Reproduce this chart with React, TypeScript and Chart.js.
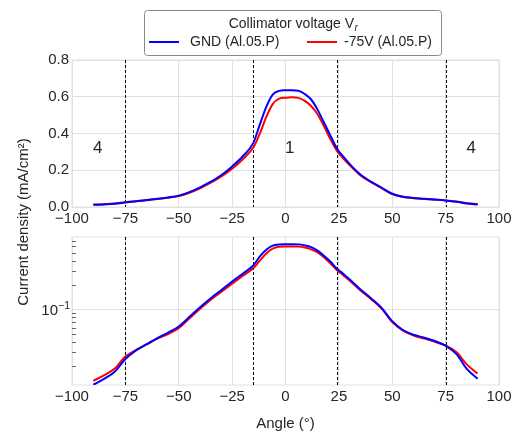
import React, { useEffect, useRef } from 'react';
import { Chart, registerables } from 'chart.js';

Chart.register(...registerables);

const angles = [-90, -85, -80, -75, -70, -65, -60, -55, -50, -45, -40, -35, -30, -25, -20, -15, -12, -9, -6, -3, 0, 3, 6, 9, 12, 15, 18, 21, 24, 27, 30, 35, 40, 45, 50, 55, 60, 65, 70, 75, 80, 85, 90];
const gnd = [0.0119, 0.0140, 0.0172, 0.0246, 0.0315, 0.0375, 0.0446, 0.052, 0.0618, 0.0813, 0.107, 0.138, 0.174, 0.221, 0.276, 0.350, 0.45, 0.545, 0.612, 0.632, 0.635, 0.636, 0.633, 0.615, 0.585, 0.53, 0.46, 0.39, 0.32, 0.275, 0.235, 0.178, 0.138, 0.105, 0.072, 0.056, 0.049, 0.045, 0.041, 0.0359, 0.0285, 0.0185, 0.0141];
const neg75 = [0.0133, 0.0155, 0.0188, 0.0265, 0.0318, 0.0372, 0.0440, 0.050, 0.0591, 0.0776, 0.102, 0.132, 0.166, 0.208, 0.260, 0.325, 0.40, 0.49, 0.56, 0.59, 0.595, 0.597, 0.594, 0.578, 0.55, 0.505, 0.44, 0.37, 0.307, 0.265, 0.228, 0.173, 0.135, 0.103, 0.070, 0.055, 0.048, 0.044, 0.040, 0.0359, 0.030, 0.021, 0.0163];
const seriesNames = ['GND (Al.05.P)', '-75V (Al.05.P)'];
const seriesColors = ['#0000ff', '#ff0000'];
const boundaries = [-75, -15, 24, 75];
const regionLabels = ['4', '1', '4'];
const regionLabelX = [-88, 2, 87];
const regionLabelY = 0.32;
const logMinorTicks = [0.02, 0.03, 0.04, 0.05, 0.06, 0.07, 0.08, 0.09, 0.2, 0.3, 0.4, 0.5, 0.6, 0.7];
const logMajorTicks = [0.1];
const logMajorBase = '10';
const logMajorExp = ['\u22121'];
const legendTitle = 'Collimator voltage V';
const legendTitleSub = 'r';
const xTitle = 'Angle (°)';
const yTitle = 'Current density (mA/cm²)';

const FONT = "'Liberation Sans', Arial, sans-serif";
const TXT = '#262626';
const GRID = '#e0e0e0';

const fmtX = (v: number) => (v < 0 ? '\u2212' + Math.abs(v) : String(v));

const datasets = () => [
  { label: seriesNames[0], data: angles.map((a, i) => ({ x: a, y: gnd[i] })), borderColor: seriesColors[0], borderWidth: 2, pointRadius: 0, cubicInterpolationMode: 'monotone' as const, fill: false },
  { label: seriesNames[1], data: angles.map((a, i) => ({ x: a, y: neg75[i] })), borderColor: seriesColors[1], borderWidth: 2, pointRadius: 0, cubicInterpolationMode: 'monotone' as const, fill: false },
];

const framePlugin = {
  id: 'frameDash',
  beforeDatasetsDraw(chart: any) {
    const { ctx, chartArea } = chart;
    ctx.save();
    ctx.strokeStyle = GRID;
    ctx.lineWidth = 1;
    ctx.strokeRect(chartArea.left, chartArea.top, chartArea.right - chartArea.left, chartArea.bottom - chartArea.top);
    ctx.strokeStyle = '#000';
    ctx.setLineDash([3, 2]);
    for (const b of boundaries) {
      const x = Math.round(chart.scales.x.getPixelForValue(b)) + 0.5;
      ctx.beginPath();
      ctx.moveTo(x, chartArea.top);
      ctx.lineTo(x, chartArea.bottom);
      ctx.stroke();
    }
    ctx.restore();
  },
};

const regionPlugin = {
  id: 'regions',
  afterDatasetsDraw(chart: any) {
    const { ctx } = chart;
    ctx.save();
    ctx.fillStyle = TXT;
    ctx.font = `17px ${FONT}`;
    ctx.textAlign = 'center';
    ctx.textBaseline = 'middle';
    regionLabels.forEach((t, i) => {
      ctx.fillText(t, chart.scales.x.getPixelForValue(regionLabelX[i]), chart.scales.y.getPixelForValue(regionLabelY));
    });
    ctx.restore();
  },
};

const legendPlugin = {
  id: 'customLegend',
  afterDraw(chart: any) {
    const { ctx } = chart;
    const bx = 144.5, by = 10.5, bw = 297, bh = 45, r = 3;
    ctx.save();
    ctx.beginPath();
    ctx.moveTo(bx + r, by);
    ctx.lineTo(bx + bw - r, by);
    ctx.quadraticCurveTo(bx + bw, by, bx + bw, by + r);
    ctx.lineTo(bx + bw, by + bh - r);
    ctx.quadraticCurveTo(bx + bw, by + bh, bx + bw - r, by + bh);
    ctx.lineTo(bx + r, by + bh);
    ctx.quadraticCurveTo(bx, by + bh, bx, by + bh - r);
    ctx.lineTo(bx, by + r);
    ctx.quadraticCurveTo(bx, by, bx + r, by);
    ctx.closePath();
    ctx.fillStyle = '#ffffff';
    ctx.fill();
    ctx.strokeStyle = '#8a8a8a';
    ctx.lineWidth = 1;
    ctx.stroke();

    ctx.fillStyle = TXT;
    ctx.textBaseline = 'alphabetic';
    ctx.textAlign = 'left';
    ctx.font = `14px ${FONT}`;
    const w1 = ctx.measureText(legendTitle).width;
    ctx.font = `italic 10px ${FONT}`;
    const w2 = ctx.measureText(legendTitleSub).width;
    const sx = 293 - (w1 + w2) / 2;
    ctx.font = `14px ${FONT}`;
    ctx.fillText(legendTitle, sx, 27.5);
    ctx.font = `italic 10px ${FONT}`;
    ctx.fillText(legendTitleSub, sx + w1 + 0.5, 30.5);

    const entries = [
      { x0: 149, x1: 179, tx: 190 },
      { x0: 307, x1: 337, tx: 344 },
    ];
    ctx.font = `14px ${FONT}`;
    ctx.textBaseline = 'middle';
    entries.forEach((e, i) => {
      ctx.strokeStyle = seriesColors[i];
      ctx.lineWidth = 2;
      ctx.beginPath();
      ctx.moveTo(e.x0, 42);
      ctx.lineTo(e.x1, 42);
      ctx.stroke();
      ctx.fillStyle = TXT;
      ctx.fillText(seriesNames[i], e.tx, 42.5);
    });
    ctx.restore();
  },
};

const minorTickPlugin = {
  id: 'minorTicks',
  afterDatasetsDraw(chart: any) {
    const { ctx, chartArea } = chart;
    const y = chart.scales.y;
    ctx.save();
    ctx.strokeStyle = '#666';
    ctx.lineWidth = 1;
    for (const v of logMinorTicks) {
      if (v < y.min || v > y.max) continue;
      const py = Math.round(y.getPixelForValue(v)) + 0.5;
      ctx.beginPath();
      ctx.moveTo(chartArea.left, py);
      ctx.lineTo(chartArea.left + 4, py);
      ctx.stroke();
    }
    ctx.restore();
  },
  afterDraw(chart: any) {
    const { ctx, chartArea } = chart;
    const y = chart.scales.y;
    ctx.save();
    ctx.fillStyle = TXT;
    logMajorTicks.forEach((v, i) => {
      const py = y.getPixelForValue(v);
      ctx.textBaseline = 'alphabetic';
      ctx.textAlign = 'right';
      ctx.font = `10.5px ${FONT}`;
      const we = ctx.measureText(logMajorExp[i]).width;
      const right = chartArea.left - 2;
      ctx.fillText(logMajorExp[i], right, py - 1);
      ctx.font = `15px ${FONT}`;
      ctx.fillText(logMajorBase, right - we, py + 5.5);
    });
    ctx.font = `15px ${FONT}`;
    ctx.textAlign = 'center';
    ctx.textBaseline = 'middle';
    ctx.translate(24, 222);
    ctx.rotate(-Math.PI / 2);
    ctx.fillText(yTitle, 0, 0);
    ctx.restore();
  },
};

const xScale = (height: number, withTitle: boolean) => ({
  type: 'linear' as const,
  min: -100,
  max: 100,
  afterFit(s: any) { s.height = height; s.paddingLeft = 0; s.paddingRight = 0; },
  ticks: { stepSize: 25, color: TXT, font: { family: FONT, size: 15 }, padding: 3, callback: (v: any) => fmtX(Number(v)), maxRotation: 0 },
  grid: { color: GRID, drawTicks: false },
  border: { display: false },
  title: withTitle ? { display: true, text: xTitle, color: TXT, font: { family: FONT, size: 15 }, padding: { top: 0, bottom: 3 } } : { display: false },
});

export default function App() {
  const topRef = useRef<HTMLCanvasElement>(null);
  const botRef = useRef<HTMLCanvasElement>(null);

  useEffect(() => {
    const top = new Chart(topRef.current as HTMLCanvasElement, {
      type: 'line',
      data: { datasets: datasets() as any },
      options: {
        animation: false,
        responsive: false,
        devicePixelRatio: 1,
        layout: { padding: { top: 60, right: 13, bottom: 436 - 207 - 25, left: 0 } },
        plugins: { legend: { display: false }, tooltip: { enabled: false } },
        scales: {
          x: xScale(25, false) as any,
          y: {
            type: 'linear',
            min: 0,
            max: 0.8,
            afterFit(s: any) { s.width = 72; },
            ticks: { stepSize: 0.2, color: TXT, font: { family: FONT, size: 15 }, padding: 3, callback: (v: any) => Number(v).toFixed(1) },
            grid: { color: GRID, drawTicks: false },
            border: { display: false },
          },
        },
      },
      plugins: [framePlugin, regionPlugin, legendPlugin],
    });
    const bot = new Chart(botRef.current as HTMLCanvasElement, {
      type: 'line',
      data: { datasets: datasets() as any },
      options: {
        animation: false,
        responsive: false,
        devicePixelRatio: 1,
        layout: { padding: { top: 237, right: 13, bottom: 0, left: 0 } },
        plugins: { legend: { display: false }, tooltip: { enabled: false } },
        scales: {
          x: xScale(51, true) as any,
          y: {
            type: 'logarithmic',
            min: 0.0118,
            max: 0.78,
            afterFit(s: any) { s.width = 72; },
            afterBuildTicks(s: any) { s.ticks = logMajorTicks.map((v) => ({ value: v, major: true })); },
            ticks: { color: TXT, font: { family: FONT, size: 15 }, padding: 3, autoSkip: false, callback: () => '' },
            grid: { color: GRID, drawTicks: false },
            border: { display: false },
          },
        },
      },
      plugins: [framePlugin, minorTickPlugin],
    });
    return () => { top.destroy(); bot.destroy(); };
  }, []);

  const cs: React.CSSProperties = { position: 'absolute', left: 0, top: 0, width: 512, height: 436 };
  return (
    <div style={{ position: 'absolute', left: 0, top: 0, width: 512, height: 436, background: '#fff' }}>
      <canvas ref={topRef} width={512} height={436} style={cs} />
      <canvas ref={botRef} width={512} height={436} style={cs} />
    </div>
  );
}
